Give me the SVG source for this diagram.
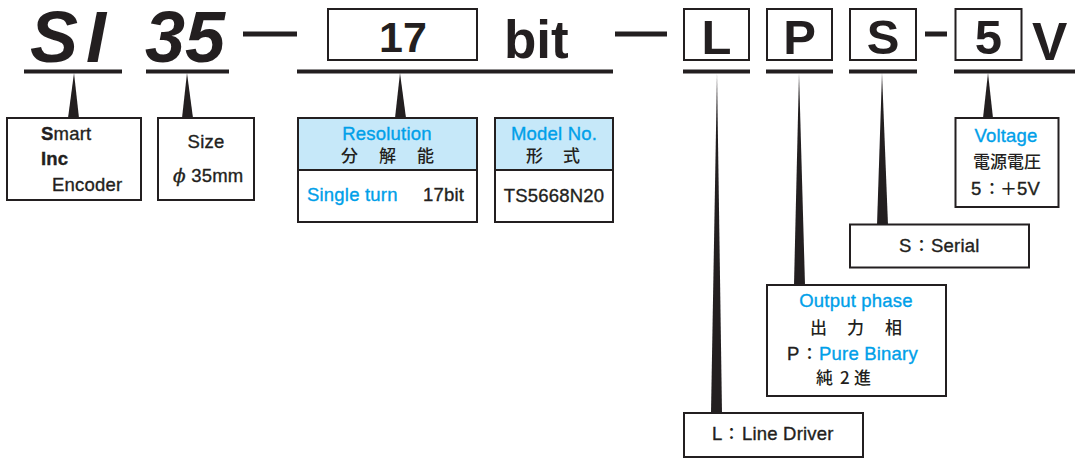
<svg xmlns="http://www.w3.org/2000/svg" width="1081" height="460" viewBox="0 0 1081 460">
<style>
.bg{fill:#ffffff}
.box{fill:#ffffff;stroke:#231f20;stroke-width:2}
.hdr{fill:#c6e8f9;stroke:#231f20;stroke-width:2}
.bar{fill:#231f20}
.ptr{fill:#231f20}
.big{font-family:"Liberation Sans",Arial,sans-serif;font-weight:bold;fill:#231f20}
.bi{font-family:"Liberation Sans",Arial,sans-serif;font-weight:bold;font-style:italic;fill:#231f20;font-size:72px}
.t{font-family:"Liberation Sans",Arial,sans-serif;font-size:18.5px;fill:#231f20;stroke:#231f20;stroke-width:0.35;letter-spacing:0.2px}
.b{fill:#00a0e9;stroke:#00a0e9}
.cjk{font-family:"Noto Sans CJK JP","Noto Sans CJK SC",sans-serif;font-size:17px;fill:#231f20;font-weight:500}
.c{text-anchor:middle}
</style>
<rect class="bg" x="0" y="0" width="1081" height="460"/>

<g id="code">
  <text class="bi" x="30" y="62">S</text>
  <text class="bi" x="86" y="62">I</text>
  <rect class="bar" x="24" y="69.5" width="98" height="4"/>
  <text class="bi" x="145" y="62">35</text>
  <rect class="bar" x="146" y="69.5" width="83" height="4"/>
  <rect class="bar" x="243" y="31.5" width="54" height="5"/>
  <rect class="box" x="328" y="9" width="149" height="51"/>
  <text class="big c" x="403" y="52" font-size="43">17</text>
  <text class="big" x="504" y="58" font-size="53">bit</text>
  <rect class="bar" x="297" y="69.5" width="316" height="4"/>
  <rect class="bar" x="615" y="31.5" width="52" height="5"/>
  <rect class="box" x="684" y="9" width="65" height="51"/>
  <text class="big c" x="716.5" y="54" font-size="49">L</text>
  <rect class="bar" x="683" y="69.5" width="67" height="4"/>
  <rect class="box" x="767" y="9" width="65" height="51"/>
  <text class="big c" x="799.5" y="54" font-size="49">P</text>
  <rect class="bar" x="766" y="69.5" width="67" height="4"/>
  <rect class="box" x="850" y="9" width="66" height="51"/>
  <text class="big c" x="883" y="54" font-size="49">S</text>
  <rect class="bar" x="849" y="69.5" width="68" height="4"/>
  <rect class="bar" x="925" y="31.5" width="22" height="5"/>
  <rect class="box" x="955.5" y="9" width="66" height="51"/>
  <text class="big c" x="988.5" y="54" font-size="49">5</text>
  <text class="big" x="1032" y="60" font-size="53">V</text>
  <rect class="bar" x="954" y="69.5" width="121" height="4"/>
</g>

<g id="connectors">
  <polygon class="ptr" points="74,73 68,118 79,118"/>
  <polygon class="ptr" points="187,73 182,118 193,118"/>
  <polygon class="ptr" points="400,73 395,118 406,118"/>
  <polygon class="ptr" points="988,73 983,118 993,118"/>
  <polygon class="ptr" points="717,73 711,413 722,413"/>
  <polygon class="ptr" points="799,73 794,285 805,285"/>
  <polygon class="ptr" points="882,73 877,225 888,225"/>
</g>

<g id="node-si">
  <rect class="box" x="7" y="118" width="134" height="82"/>
  <text class="t" x="41" y="140"><tspan font-weight="bold">S</tspan>mart</text>
  <text class="t" x="41" y="165" font-weight="bold">Inc</text>
  <text class="t" x="52" y="191">Encoder</text>
</g>

<g id="node-size">
  <rect class="box" x="158" y="118" width="96" height="82"/>
  <text class="t c" x="206" y="148">Size</text>
  <text class="t" x="173" y="182"><tspan font-family="'DejaVu Serif',serif" font-style="italic">ϕ</tspan> 35mm</text>
</g>

<g id="node-resolution">
  <rect class="box" x="298" y="118" width="179" height="104"/>
  <rect class="hdr" x="298" y="118" width="179" height="52"/>
  <text class="t c b" x="387" y="140">Resolution</text>
  <text class="cjk" x="341 379 417" y="162">分解能</text>
  <text class="t b" x="307" y="201">Single turn</text>
  <text class="t" x="423" y="201">17bit</text>
</g>

<g id="node-model">
  <rect class="box" x="495" y="118" width="118" height="104"/>
  <rect class="hdr" x="495" y="118" width="118" height="52"/>
  <text class="t c b" x="554" y="140">Model No.</text>
  <text class="cjk" x="526 563" y="162">形式</text>
  <text class="t c" x="554" y="202">TS5668N20</text>
</g>

<g id="node-voltage">
  <rect class="box" x="955.5" y="118" width="103" height="89"/>
  <text class="t c b" x="1006" y="142">Voltage</text>
  <text class="cjk c" x="1007" y="168">電源電圧</text>
  <text class="t" x="971" y="195">5</text>
  <text class="cjk" x="983.5" y="195">：</text>
  <text class="cjk" x="1000" y="195">＋</text>
  <text class="t" x="1017" y="195">5V</text>
</g>

<g id="node-serial">
  <rect class="box" x="850" y="224.5" width="179" height="43"/>
  <text class="t" x="899" y="252">S</text>
  <text class="cjk" x="913" y="252">：</text>
  <text class="t" x="931" y="252">Serial</text>
</g>

<g id="node-output">
  <rect class="box" x="767" y="285" width="179" height="111"/>
  <text class="t c b" x="856" y="307">Output phase</text>
  <text class="cjk" x="810 847 885" y="334">出力相</text>
  <text class="t" x="787" y="360">P</text>
  <text class="cjk" x="801" y="360">：</text>
  <text class="t b" x="819" y="360">Pure Binary</text>
  <text class="cjk" x="816 840 854" y="384">純2進</text>
</g>

<g id="node-line">
  <rect class="box" x="684" y="413" width="179" height="44"/>
  <text class="t" x="712" y="440">L</text>
  <text class="cjk" x="723" y="440">：</text>
  <text class="t" x="742" y="440">Line Driver</text>
</g>
</svg>
